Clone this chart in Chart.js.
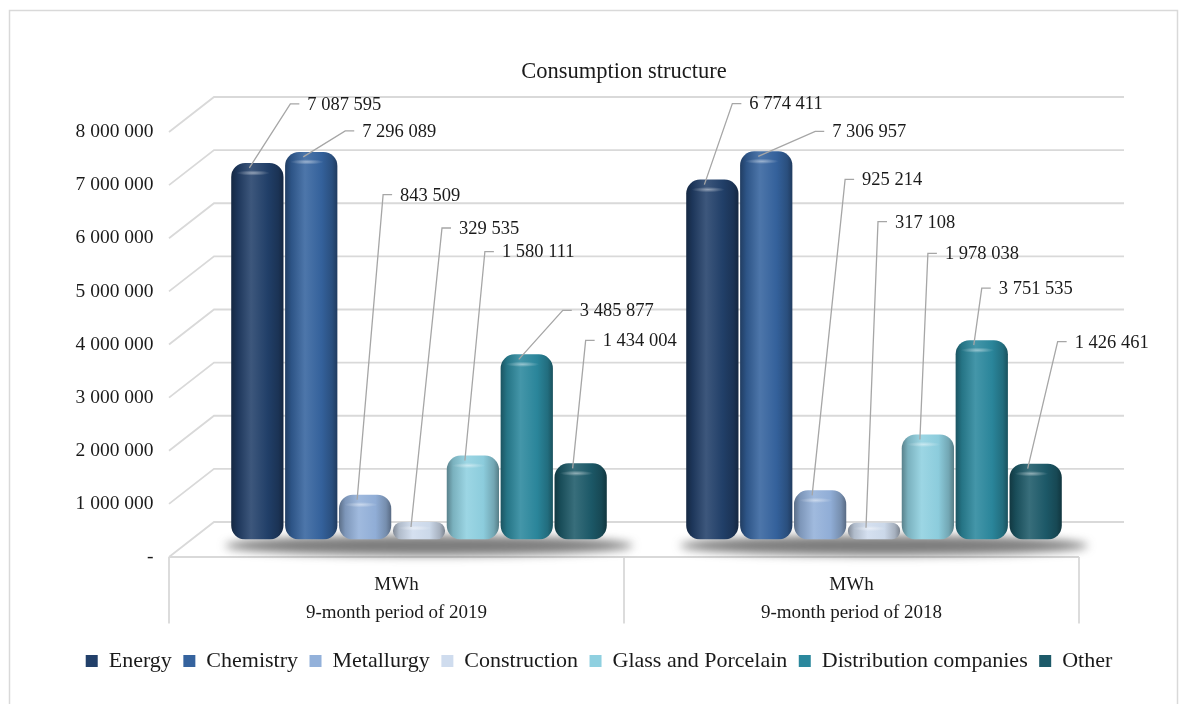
<!DOCTYPE html>
<html>
<head>
<meta charset="utf-8">
<script src="https://cdn.jsdelivr.net/npm/chart.js@4.4.1/dist/chart.umd.min.js"></script>
<style>
  html, body { margin: 0; padding: 0; background: #ffffff; }
  #wrap { width: 1181px; height: 704px; position: relative; }
</style>
</head>
<body>
<div id="wrap"><canvas id="chart" width="1181" height="704"></canvas></div>
<script>
// ---- data ----
const periods = [["MWh", "9-month period of 2019"], ["MWh", "9-month period of 2018"]];
const sectors = ["Energy", "Chemistry", "Metallurgy", "Construction",
                 "Glass and Porcelain", "Distribution companies", "Other"];
const energy         = [7087595, 6774411];
const chemistry      = [7296089, 7306957];
const metallurgy     = [843509, 925214];
const construction   = [329535, 317108];
const glassPorcelain = [1580111, 1978038];
const distribution   = [3485877, 3751535];
const other          = [1434004, 1426461];
const yTicks = [0, 1000000, 2000000, 3000000, 4000000, 5000000, 6000000, 7000000, 8000000];
const chartTitle = "Consumption structure";

// ---- styling ----
const sectorColors = ["#22406a", "#35639e", "#93b1da", "#cfdcee", "#8fd0e0", "#2b889d", "#1d5a69"];
const FONT = "'Liberation Serif', 'Times New Roman', serif";
const TEXT = "#1a1a1a";
const GRID = "#d9d9d9";
const LEADER = "#a6a6a6";
// oblique depth of the 3-D floor / side wall (half depth, in px)
const DX = 22.5, DY = 17.5;
// callout placement for each value label, relative to the top of its bar [dx, dy]
const calloutOffsets = [
  [[33, -59], [20, -76]],
  [[34, -21], [49, -20]],
  [[18, -300], [25, -311]],
  [[23, -294], [4, -301]],
  [[12, -204], [0, -181]],
  [[36, -44], [0, -52]],
  [[5, -123], [22, -122]]
];

const seriesValues = [energy, chemistry, metallurgy, construction, glassPorcelain, distribution, other];

function fmt(v) {
  return String(v).replace(/\B(?=(\d{3})+(?!\d))/g, " ");
}
function hexRgb(h) {
  const n = parseInt(h.slice(1), 16);
  return [(n >> 16) & 255, (n >> 8) & 255, n & 255];
}
function shade(h, f) {
  const [r, g, b] = hexRgb(h);
  const m = c => Math.max(0, Math.min(255, Math.round(f >= 1 ? c + (255 - c) * (f - 1) : c * f)));
  return `rgb(${m(r)},${m(g)},${m(b)})`;
}

// 3-D wall, floor, front category box, title and bar shadows
const wallPlugin = {
  id: "wall3d",
  beforeDatasetsDraw(chart) {
    const ctx = chart.ctx;
    const ys = chart.scales.y;
    const L = chart.chartArea.left, R = chart.chartArea.right;
    ctx.save();
    // outer frame
    ctx.strokeStyle = GRID;
    ctx.lineWidth = 1.5;
    ctx.strokeRect(9.5, 10.5, 1168, 720);

    // title, centred over the plot
    ctx.fillStyle = TEXT;
    ctx.font = `22.5px ${FONT}`;
    ctx.textAlign = "center";
    ctx.textBaseline = "middle";
    ctx.fillText(chartTitle, (L + R) / 2 - DX, 72);

    // back wall + side wall gridlines
    ctx.lineWidth = 1.8;
    ctx.strokeStyle = GRID;
    yTicks.forEach(v => {
      const y = ys.getPixelForValue(v);
      ctx.beginPath();
      ctx.moveTo(L - DX, y + DY);
      ctx.lineTo(L + DX, y - DY);
      ctx.lineTo(R + DX, y - DY);
      ctx.stroke();
    });
    // front box under the floor
    const y0 = ys.getPixelForValue(0) + DY;
    const boxBottom = chart.legend.top - 15;
    ctx.beginPath();
    ctx.moveTo(L - DX, y0);
    ctx.lineTo(R - DX, y0);
    ctx.moveTo(L - DX, y0);
    ctx.lineTo(L - DX, boxBottom);
    ctx.moveTo((L + R) / 2 - DX, y0);
    ctx.lineTo((L + R) / 2 - DX, boxBottom);
    ctx.moveTo(R - DX, y0);
    ctx.lineTo(R - DX, boxBottom);
    ctx.stroke();

    // soft shadows cast on the floor
    const base = ys.getPixelForValue(0);
    const metas = chart.data.datasets.map((d, i) => chart.getDatasetMeta(i));
    for (let c = 0; c < periods.length; c++) {
      const first = metas[0].data[c], last = metas[metas.length - 1].data[c];
      const left = first.x - first.width / 2, right = last.x + last.width / 2;
      ctx.save();
      ctx.filter = "blur(5px)";
      ctx.fillStyle = "rgba(80,80,80,0.75)";
      ctx.beginPath();
      ctx.ellipse((left + right) / 2 + 10, base + 6, (right - left) / 2 + 16, 10, 0, 0, Math.PI * 2);
      ctx.fill();
      ctx.restore();
    }

    // cylinder shading: horizontal gradient per bar
    metas.forEach((meta, i) => {
      const col = sectorColors[i];
      meta.data.forEach(el => {
        const w = el.width, x0 = el.x - w / 2;
        const g = ctx.createLinearGradient(x0, 0, x0 + w, 0);
        g.addColorStop(0, shade(col, 0.62));
        g.addColorStop(0.12, shade(col, 0.85));
        g.addColorStop(0.38, shade(col, 1.12));
        g.addColorStop(0.7, shade(col, 0.98));
        g.addColorStop(0.9, shade(col, 0.8));
        g.addColorStop(1, shade(col, 0.6));
        el.options = Object.assign({}, el.options, { backgroundColor: g });
      });
    });
    ctx.restore();
  },
  afterDatasetsDraw(chart) {
    const ctx = chart.ctx;
    ctx.save();
    chart.data.datasets.forEach((ds, i) => {
      const meta = chart.getDatasetMeta(i);
      meta.data.forEach((el, j) => {
        const w = el.width, h = el.base - el.y;
        // highlight on the rounded cap
        const cx = el.x - w * 0.08;
        const capY = el.y + Math.min(10, h * 0.35);
        const g = ctx.createRadialGradient(cx, capY, 0, cx, capY, w * 0.32);
        g.addColorStop(0, "rgba(255,255,255,0.45)");
        g.addColorStop(1, "rgba(255,255,255,0)");
        ctx.save();
        ctx.translate(cx, capY);
        ctx.scale(1, 0.16);
        ctx.translate(-cx, -capY);
        ctx.fillStyle = g;
        ctx.beginPath();
        ctx.arc(cx, capY, w * 0.32, 0, Math.PI * 2);
        ctx.fill();
        ctx.restore();

        // value callout with leader line
        const [dx, dy] = calloutOffsets[i][j];
        const sx = el.x - 8, sy = el.y + 5;
        const ax = el.x + dx, ay = el.y + dy;
        ctx.strokeStyle = LEADER;
        ctx.lineWidth = 1.3;
        ctx.beginPath();
        ctx.moveTo(sx, sy);
        ctx.lineTo(ax, ay);
        ctx.lineTo(ax + 9, ay);
        ctx.stroke();
        ctx.fillStyle = TEXT;
        ctx.font = `18.5px ${FONT}`;
        ctx.textAlign = "left";
        ctx.textBaseline = "middle";
        ctx.fillText(fmt(ds.data[j]), ax + 17, ay + 1);
      });
    });
    ctx.restore();
  }
};

new Chart(document.getElementById("chart"), {
  type: "bar",
  data: {
    labels: periods,
    datasets: sectors.map((name, i) => ({
      label: name,
      data: seriesValues[i],
      yAxisID: "y",
      backgroundColor: sectorColors[i],
      borderWidth: 0,
      borderRadius: 14,
      borderSkipped: false,
      categoryPercentage: 0.829,
      barPercentage: 0.97
    }))
  },
  options: {
    responsive: false,
    devicePixelRatio: 1,
    animation: false,
    layout: { padding: { left: 40, right: 23, top: 114.5, bottom: 22 } },
    plugins: {
      title: { display: false },
      legend: {
        position: "bottom",
        labels: {
          boxWidth: 12, boxHeight: 12, padding: 11.5, color: TEXT,
          font: { family: FONT, size: 22 }
        }
      },
      tooltip: { enabled: false }
    },
    scales: {
      x: {
        grid: { display: false },
        border: { display: false },
        ticks: {
          color: TEXT, padding: 24, labelOffset: -DX,
          font: { family: FONT, size: 19, lineHeight: 1.47 }
        },
        afterFit(s) { s.height = 99; s.paddingLeft = 0; s.paddingRight = 0; }
      },
      y: {
        min: 0, max: 8000000,
        grid: { display: false },
        border: { display: false },
        afterBuildTicks(s) { s.ticks = yTicks.map(v => ({ value: v })); },
        ticks: {
          color: TEXT, padding: 30, labelOffset: DY,
          font: { family: FONT, size: 19.5 },
          callback: v => (v === 0 ? "-" : fmt(v))
        },
        afterFit(s) { s.width = 151.5; s.paddingTop = 0; s.paddingBottom = 0; }
      },
      // empty margin on the right of the plot
      yRight: {
        position: "right",
        min: 0, max: 8000000,
        grid: { display: false },
        border: { display: false },
        ticks: { display: false },
        afterFit(s) { s.width = 56.5; s.paddingTop = 0; s.paddingBottom = 0; }
      }
    }
  },
  plugins: [wallPlugin]
});
</script>
</body>
</html>
